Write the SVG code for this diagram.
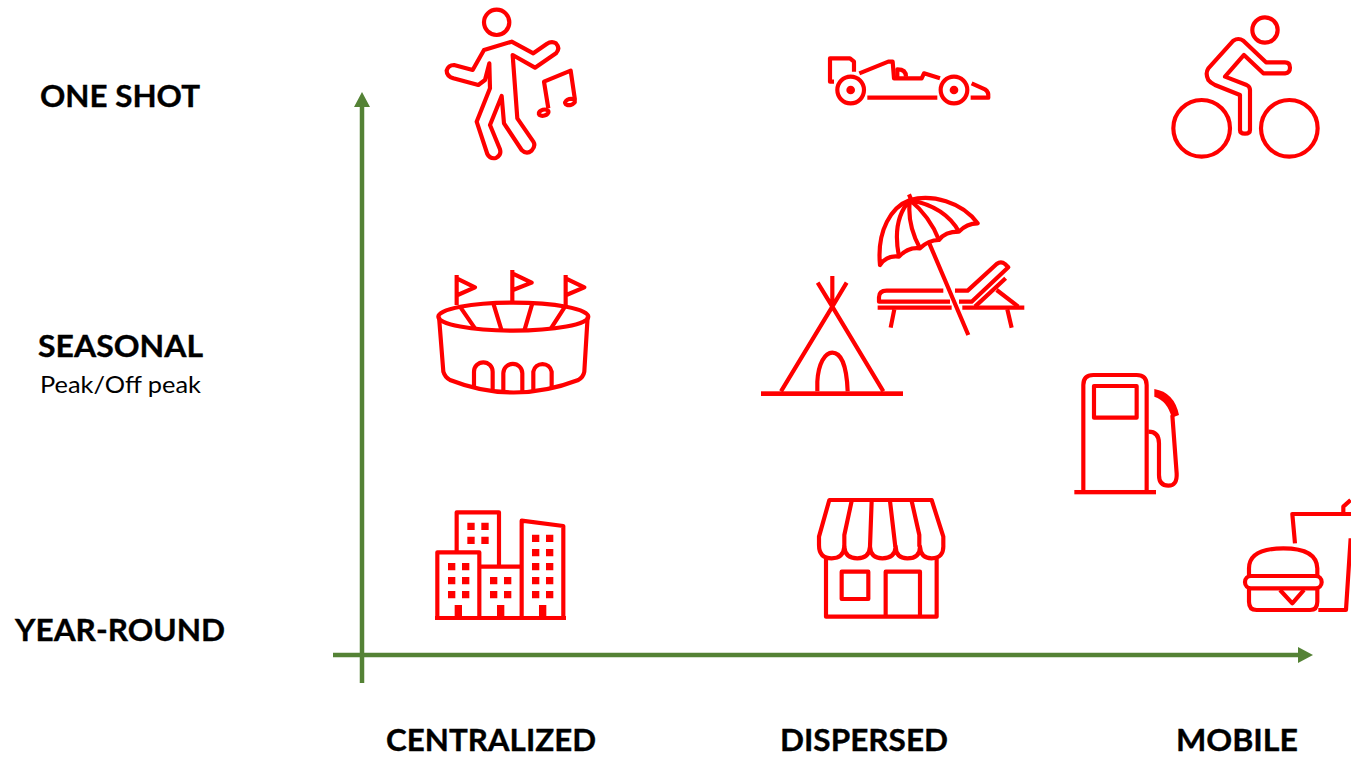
<svg xmlns="http://www.w3.org/2000/svg" width="1351" height="758" viewBox="0 0 1351 758">
<style>
.i{fill:none;stroke:#f00;stroke-width:12.5;stroke-linejoin:round;stroke-linecap:butt}
.f{fill:#f00;stroke:none}
.t{font-family:Lato,"Open Sans",sans-serif;font-weight:700;font-size:31px;fill:#000;stroke:#000;stroke-width:.35}
.s{font-family:Lato,"Open Sans",sans-serif;font-size:24px;fill:#000}
.a{fill:none;stroke:#548235;stroke-width:4.5}
</style>
<defs>
<marker id="ah" markerUnits="userSpaceOnUse" markerWidth="16" markerHeight="16" refX="8" refY="8" orient="auto"><path d="M1 0L16 8L1 16Z" fill="#548235"/></marker>
</defs>
<rect width="1351" height="758" fill="#fff"/>
<g id="connectors">
<path class="a" d="M362 683V100" marker-end="url(#ah)"/>
<path class="a" d="M333 655H1305" marker-end="url(#ah)"/>
</g>
<g id="label-one-shot"><text class="t" x="40" y="107" textLength="160" lengthAdjust="spacingAndGlyphs">ONE SHOT</text></g>
<g id="label-seasonal"><text class="t" x="38" y="357" textLength="165" lengthAdjust="spacingAndGlyphs">SEASONAL</text><text class="s" x="40" y="393" textLength="161" lengthAdjust="spacingAndGlyphs">Peak/Off peak</text></g>
<g id="label-year-round"><text class="t" x="15" y="641" textLength="210" lengthAdjust="spacingAndGlyphs">YEAR-ROUND</text></g>
<g id="label-centralized"><text class="t" x="386" y="751" textLength="210" lengthAdjust="spacingAndGlyphs">CENTRALIZED</text></g>
<g id="label-dispersed"><text class="t" x="780" y="751" textLength="168" lengthAdjust="spacingAndGlyphs">DISPERSED</text></g>
<g id="label-mobile"><text class="t" x="1176" y="751" textLength="122" lengthAdjust="spacingAndGlyphs">MOBILE</text></g>

<g id="dancer" transform="translate(430 0) scale(.3333)">
<circle class="i" cx="200" cy="67" r="38"/>
<path class="i" d="M178 190L180 265L140 365L172 462Q180 478 198 474Q215 465 210 448L180 375L215 288L222 370L275 450Q290 465 305 452Q318 438 310 425L262 355L248 165L315 203L378 160Q392 145 378 130Q365 122 350 132L310 160L245 125L162 150L128 210L72 195Q55 195 50 212Q50 228 70 235L145 255L165 240Z"/>
<path class="i" d="M355 325L342 245L422 212L435 300"/>
<ellipse class="i" cx="341" cy="338" rx="15" ry="9" transform="rotate(-15 341 338)"/>
<ellipse class="i" cx="420" cy="306" rx="15" ry="9" transform="rotate(-15 420 306)"/>
</g>

<g id="race-car" transform="translate(820 40) scale(.3333)">
<path class="i" d="M42 125H30V55H90L102 65V95"/>
<circle class="i" cx="92" cy="150" r="40"/><circle class="f" cx="92" cy="150" r="13"/>
<circle class="i" cx="402" cy="150" r="40"/><circle class="f" cx="402" cy="150" r="13"/>
<path class="i" d="M142 173H352"/>
<path class="i" d="M118 100L205 65H218L222 115H305L312 100L360 115"/>
<path class="i" d="M232 115V88Q258 88 258 110"/>
<path class="i" d="M455 130L495 148Q507 155 505 173H452"/>
</g>

<g id="cyclist" transform="translate(1160 5) scale(.3333)">
<circle class="i" cx="315" cy="75" r="38"/>
<circle class="i" cx="125" cy="370" r="85"/>
<circle class="i" cx="388" cy="370" r="85"/>
<path class="i" d="M240 270V375Q240 386 255 386Q270 386 270 375V255Q270 245 260 240L195 215L252 150L310 205H375Q390 203 390 188Q390 172 375 172H318L250 107Q235 97 220 107L145 190Q135 205 145 225Q150 232 165 240Z"/>
</g>

<g id="stadium" transform="translate(425 260) scale(.3333)">
<ellipse class="i" cx="265" cy="170" rx="225" ry="42"/>
<path class="i" d="M95 45V135M95 55L150 82L98 105M262 30V125M262 40L320 68L264 90M422 45V135M422 55L478 82L424 105"/>
<path class="i" d="M105 140L150 205M205 130L230 212M322 130L298 212M420 140L378 205"/>
<path class="i" d="M42 170L55 335Q60 352 75 360Q265 435 460 360Q475 352 478 335L488 170"/>
<path class="i" d="M147 385V335A28 28 0 0 1 203 335V395M235 397V340A28 28 0 0 1 292 340V397M325 392V335A28 28 0 0 1 380 335V385"/>
</g>

<g id="tent" transform="translate(755 190) scale(.3333)">
<rect class="f" x="18" y="604" width="426" height="14"/>
<path class="i" d="M78 604L232 350L385 604M232 350L188 278M232 350L275 278M232 258V350"/>
<path class="i" d="M187 604V575C190 520 210 488 232 488C255 488 275 520 278 604"/>
</g>

<g id="beach-chair" transform="translate(755 190) scale(.3333)">
<path class="i" d="M375 225C365 120 410 50 465 30C530 12 620 35 668 100Q635 100 612 125Q570 125 552 150Q520 150 495 175Q460 170 432 200Q395 195 375 225Z"/>
<path class="i" d="M465 30Q410 90 432 200M465 30Q455 100 495 175M465 30Q525 80 552 150M465 30Q570 50 612 125"/>
<path class="i" d="M462 13L470 32M523 160L640 435"/>
<path class="i" d="M565 302H395Q372 302 372 322V335H585M600 302H638L725 222Q738 212 750 222L760 232L650 335H612"/>
<path class="i" style="stroke-width:13" d="M368 353H590M622 353H808"/>
<path class="i" d="M660 350L752 265M725 300L790 350M418 358L407 413M757 358L770 413"/>
</g>

<g id="fuel-pump" transform="translate(1065 365) scale(.3333)">
<rect class="f" x="28" y="375" width="245" height="13"/>
<path class="i" d="M55 378V60Q55 30 85 30H215Q245 30 245 60V378"/>
<rect class="i" x="87" y="63" width="128" height="95"/>
<path class="i" d="M250 200Q282 200 282 235V330Q282 362 310 362Q337 362 335 325L322 150"/>
<path class="f" d="M268 72Q328 82 342 150L320 158Q308 108 268 95Z"/>
</g>

<g id="buildings" transform="translate(425 500) scale(.3333)">
<path class="i" d="M37 350V157H163V350M95 155V37H222V200M163 200H290M290 350V62L415 78V350"/>
<rect class="f" x="30" y="348" width="393" height="12"/>
<path class="f" d="M127 68h22v22h-22zM169 68h22v22h-22zM127 110h22v22h-22zM169 110h22v22h-22zM69 189h22v22h-22zM111 189h22v22h-22zM69 231h22v22h-22zM111 231h22v22h-22zM69 273h22v22h-22zM111 273h22v22h-22zM195 231h22v22h-22zM237 231h22v22h-22zM195 273h22v22h-22zM237 273h22v22h-22zM321 104h22v22h-22zM363 104h22v22h-22zM321 147h22v22h-22zM363 147h22v22h-22zM321 189h22v22h-22zM363 189h22v22h-22zM321 231h22v22h-22zM363 231h22v22h-22zM321 273h22v22h-22zM363 273h22v22h-22zM89 315h22v35h-22zM216 315h22v35h-22zM342 315h22v35h-22z"/>
</g>

<g id="shop" transform="translate(810 490) scale(.3333)">
<path class="i" d="M58 30H365L400 140V165Q402 205 365 205Q332 205 330 170Q330 205 292 205Q258 205 257 170Q255 205 217 205Q182 205 180 170Q178 205 142 205Q105 205 103 170Q100 205 65 205Q27 205 27 165V140Z"/>
<path class="i" d="M125 33L103 135V170M185 33L180 170M240 33L256 170M305 33L328 135V170"/>
<path class="i" d="M48 205V380H380V205"/>
<rect class="i" x="95" y="245" width="80" height="82"/>
<path class="i" d="M227 380V245H330V380"/>
</g>

<g id="burger-drink" transform="translate(1235 490) scale(.3333)">
<path class="i" d="M180 160L172 72H350M325 70V50L347 30M347 145L333 360H250"/>
<path class="i" d="M42 258V235Q42 175 145 175Q245 175 247 235V258"/>
<rect class="i" x="30" y="258" width="230" height="37" rx="18"/>
<path class="i" d="M42 295V335Q42 360 65 360H225Q247 360 247 335V295"/>
<path class="i" d="M135 300L172 340L207 300"/>
</g>
</svg>
